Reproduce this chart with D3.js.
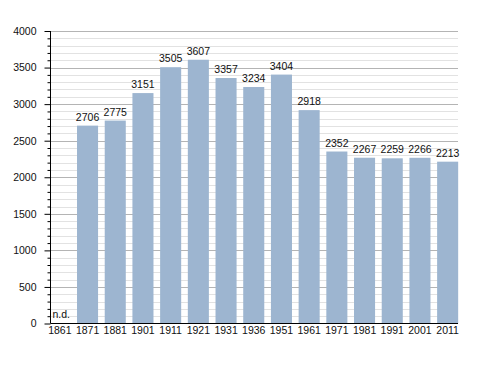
<!DOCTYPE html>
<html>
<head>
<meta charset="utf-8">
<script src="https://d3js.org/d3.v7.min.js"></script>
<style>
  body { margin: 0; background: #fff; }
  svg { display: block; font-family: "Liberation Sans", Arial, sans-serif; }
</style>
</head>
<body>
<div id="chart"></div>
<script>
// census years and population
var years = ['1861', '1871', '1881', '1901', '1911', '1921', '1931', '1936', '1951', '1961', '1971', '1981', '1991', '2001', '2011'];
var population = [null, 2706, 2775, 3151, 3505, 3607, 3357, 3234, 3404, 2918, 2352, 2267, 2259, 2266, 2213];
var yTicks = [0, 500, 1000, 1500, 2000, 2500, 3000, 3500, 4000];
var noDataLabel = 'n.d.';

var width = 488, height = 373;
var plotLeft = 50.5, plotRight = 458, plotTop = 31, plotBottom = 323.5;
var fontSize = 10.5;

var svg = d3.select('#chart').append('svg')
    .attr('width', width)
    .attr('height', height);

var x = d3.scaleBand()
    .domain(years)
    .range([46, 461.5])
    .paddingInner(0.24)
    .paddingOuter(0.12);

var y = d3.scaleLinear()
    .domain([0, 4000])
    .range([plotBottom, plotTop]);

// minor grid every 100
var minor = d3.range(100, 4001, 100).filter(function (v) { return v % 500 !== 0; });
svg.append('g').selectAll('line')
    .data(minor)
    .enter().append('line')
    .attr('x1', plotLeft).attr('x2', plotRight)
    .attr('y1', function (d) { return Math.round(y(d)) + 0.5; })
    .attr('y2', function (d) { return Math.round(y(d)) + 0.5; })
    .attr('stroke', '#e2e2e2')
    .attr('stroke-width', 1);

// major grid
svg.append('g').selectAll('line')
    .data(yTicks.slice(1))
    .enter().append('line')
    .attr('x1', plotLeft).attr('x2', plotRight)
    .attr('y1', function (d) { return Math.round(y(d)) + 0.5; })
    .attr('y2', function (d) { return Math.round(y(d)) + 0.5; })
    .attr('stroke', '#b4b4b4')
    .attr('stroke-width', 1);

var rows = years.map(function (d, i) { return { year: d, value: population[i] }; })
    .filter(function (d) { return d.value !== null; });

// bars
svg.append('g').selectAll('rect')
    .data(rows)
    .enter().append('rect')
    .attr('x', function (d) { return x(d.year); })
    .attr('y', function (d) { return y(d.value); })
    .attr('width', x.bandwidth())
    .attr('height', function (d) { return y(0) - y(d.value); })
    .attr('fill', '#9db5d0');

// value labels
svg.append('g').selectAll('text')
    .data(rows)
    .enter().append('text')
    .attr('x', function (d) { return x(d.year) + x.bandwidth() / 2; })
    .attr('y', function (d) { return y(d.value) - 5; })
    .attr('text-anchor', 'middle')
    .attr('font-size', fontSize)
    .attr('fill', '#111')
    .text(function (d) { return d.value; });

// n.d. label
svg.append('text')
    .attr('x', plotLeft + 2)
    .attr('y', plotBottom - 5.5)
    .attr('font-size', fontSize)
    .attr('fill', '#111')
    .text(noDataLabel);

// y axis
var yAxis = d3.axisLeft(y)
    .tickValues(d3.range(0, 4001, 100))
    .tickSize(3)
    .tickFormat(function (d) { return d % 500 === 0 ? d : ''; });
var gy = svg.append('g')
    .attr('transform', 'translate(' + plotLeft + ',0)')
    .call(yAxis);
gy.select('.domain').attr('d', 'M0,' + plotTop + 'V' + plotBottom).attr('stroke', '#000');
gy.selectAll('.tick line')
    .attr('x2', function (d) { return d % 500 === 0 ? -6 : -3; })
    .attr('stroke', '#000');
gy.selectAll('.tick text')
    .attr('x', -14)
    .attr('font-size', fontSize)
    .attr('font-family', '"Liberation Sans", Arial, sans-serif')
    .attr('fill', '#111');

// x axis
var xAxis = d3.axisBottom(x).tickSize(0).tickPadding(3.5);
var gx = svg.append('g')
    .attr('transform', 'translate(0,' + plotBottom + ')')
    .call(xAxis);
gx.select('.domain').attr('d', 'M' + plotLeft + ',0H' + plotRight).attr('stroke', '#000');
gx.selectAll('.tick text')
    .attr('font-size', fontSize)
    .attr('font-family', '"Liberation Sans", Arial, sans-serif')
    .attr('fill', '#111');
</script>
</body>
</html>
